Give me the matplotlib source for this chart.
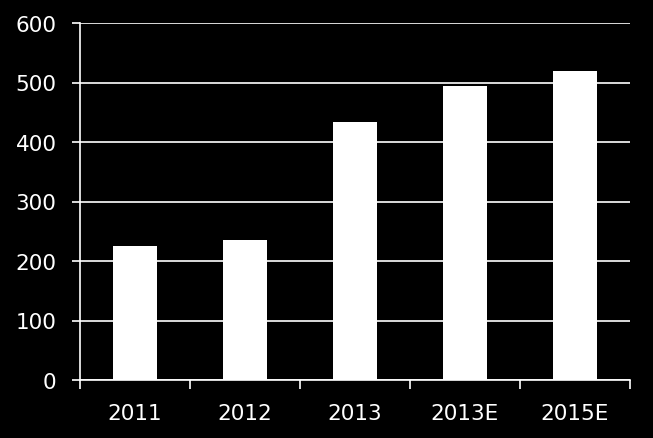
import numpy as np
import matplotlib.pyplot as plt

years = ["2011", "2012", "2013", "2013E", "2015E"]
values = [226, 235, 434, 494, 519]
yticks = [0, 100, 200, 300, 400, 500, 600]

plt.rcParams['font.family'] = ['DejaVu Sans']

fig = plt.figure(figsize=(6.53, 4.39), dpi=100, facecolor="black")
ax = fig.add_axes([80 / 653, 1 - 381 / 439, 550 / 653, 357 / 439], facecolor="black")

x = np.arange(len(years))
ax.bar(x, values, width=0.4, color="white", zorder=3)

ax.set_xlim(-0.5, len(years) - 0.5)
ax.set_ylim(0, 600)
ax.set_yticks(yticks)
ax.yaxis.grid(True, color="white", linewidth=1.2, zorder=0)

# category boundary ticks on the x axis
ax.set_xticks(np.arange(len(years) + 1) - 0.5)
ax.set_xticklabels([])
ax.set_xticks(x, minor=True)
ax.set_xticklabels(years, minor=True)
ax.tick_params(axis="x", which="major", length=6.5, width=1.2, color="white")
ax.tick_params(axis="x", which="minor", length=0, pad=16.5, labelsize=15.5, labelcolor="white")
ax.tick_params(axis="y", length=5.8, width=1.2, color="white", labelsize=15.5, labelcolor="white", pad=11)

for side in ["top", "right"]:
    ax.spines[side].set_visible(False)
for side in ["left", "bottom"]:
    ax.spines[side].set_color("white")
    ax.spines[side].set_linewidth(1.2)

fig.savefig("out.png", dpi=100, facecolor="black")
